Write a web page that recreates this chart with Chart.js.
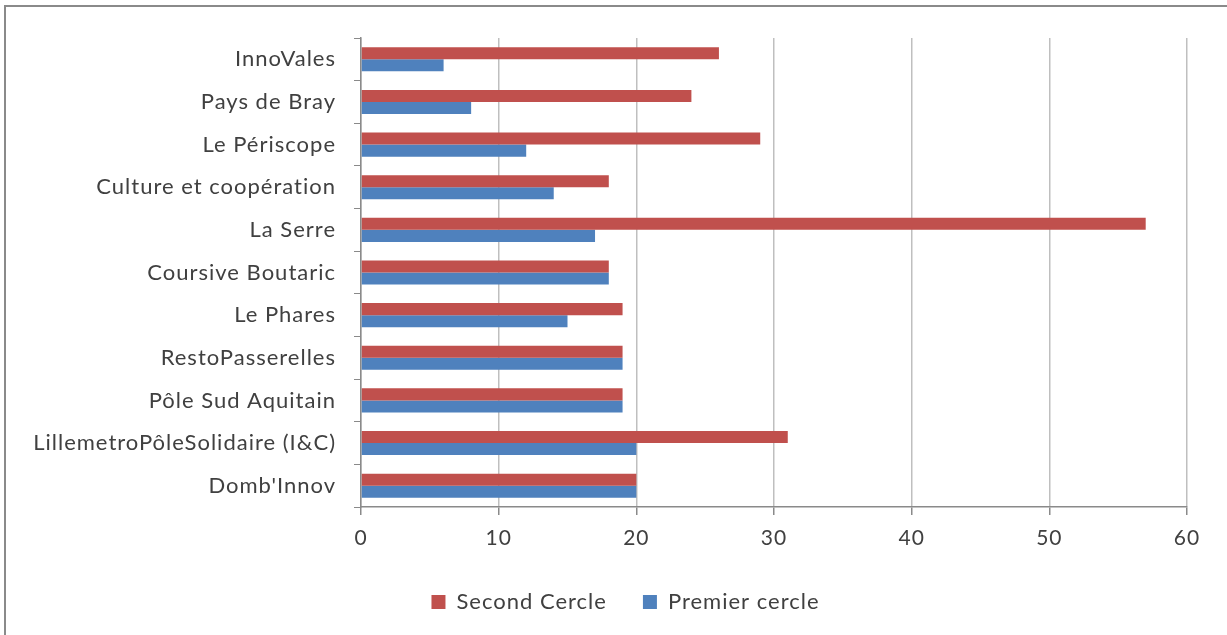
<!DOCTYPE html>
<html>
<head>
    <meta charset="utf-8">
    <title>Cercles</title>
    <script src="https://cdn.jsdelivr.net/npm/chart.js"></script>
    <style>
        body {
            margin: 0;
            background-color: #ffffff;
        }
        #wrap {
            position: relative;
            width: 1227px;
            height: 635px;
        }
    </style>
</head>
<body>
    <div id="wrap">
        <canvas id="cercleChart"></canvas>
    </div>

    <script>
        // Categories, top to bottom
        var structures = ["InnoVales", "Pays de Bray", "Le Périscope", "Culture et coopération", "La Serre", "Coursive Boutaric", "Le Phares", "RestoPasserelles", "Pôle Sud Aquitain", "LillemetroPôleSolidaire (I&C)", "Domb'Innov"];
        var secondCercle = [26, 24, 29, 18, 57, 18, 19, 19, 19, 31, 20];
        var premierCercle = [6, 8, 12, 14, 17, 18, 15, 19, 19, 20, 20];
        var xTicks = [0, 10, 20, 30, 40, 50, 60];

        var textColor = '#404040';
        var fontFamily = 'Lato, "Open Sans", sans-serif';

        // Grey frame round the whole chart, and a touch of letter spacing
        // so the narrow font gets the width of the original labels
        var framePlugin = {
            id: 'framePlugin',
            beforeLayout: function(chart) {
                chart.ctx.letterSpacing = '1px';
            },
            afterLayout: function(chart) {
                // legend sits a little right of centre in the original
                chart.legend.left += 32;
                chart.legend.right += 32;
            },
            beforeDraw: function(chart) {
                var ctx = chart.ctx;
                ctx.letterSpacing = '1px';
                ctx.save();
                ctx.strokeStyle = '#8a8a8a';
                ctx.lineWidth = 2;
                ctx.strokeRect(5, 6, chart.width + 10, chart.height + 10);
                ctx.restore();
            }
        };

        var ctx = document.getElementById('cercleChart').getContext('2d');
        new Chart(ctx, {
            type: 'bar',
            plugins: [framePlugin],
            data: {
                labels: structures,
                datasets: [
                    { label: 'Second Cercle', data: secondCercle, backgroundColor: '#C0504D' },
                    { label: 'Premier cercle', data: premierCercle, backgroundColor: '#4F81BD' }
                ]
            },
            options: {
                indexAxis: 'y',
                responsive: true,
                maintainAspectRatio: false,
                animation: false,
                layout: {
                    padding: { top: 38, right: 40, bottom: 12, left: 0 }
                },
                datasets: {
                    bar: { barPercentage: 1, categoryPercentage: 0.565 }
                },
                plugins: {
                    tooltip: { enabled: false },
                    legend: {
                        position: 'bottom',
                        labels: {
                            color: textColor,
                            font: { family: fontFamily, size: 22 },
                            boxWidth: 14,
                            boxHeight: 14,
                            padding: 36
                        }
                    }
                },
                scales: {
                    x: {
                        min: 0,
                        max: 60,
                        afterBuildTicks: function(scale) {
                            scale.ticks = xTicks.map(function(v) { return { value: v }; });
                        },
                        afterFit: function(scale) { scale.height = 48; },
                        grid: { color: '#bfbfbf', lineWidth: 1.5, tickLength: 8, tickColor: '#8a8a8a' },
                        border: { color: '#8a8a8a', width: 1.5 },
                        ticks: {
                            color: textColor,
                            font: { family: fontFamily, size: 21 },
                            padding: 11
                        }
                    },
                    y: {
                        afterFit: function(scale) { scale.width = 361; },
                        grid: { offset: true, drawOnChartArea: false, tickLength: 7, color: '#8a8a8a' },
                        border: { color: '#8a8a8a', width: 1.5 },
                        ticks: {
                            color: textColor,
                            font: { family: fontFamily, size: 22 },
                            padding: 18
                        }
                    }
                }
            }
        });
    </script>
</body>
</html>
